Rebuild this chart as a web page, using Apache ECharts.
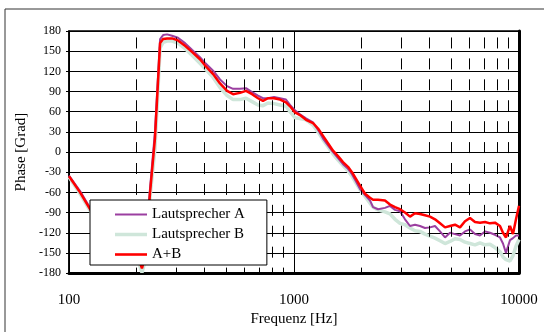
<!DOCTYPE html>
<html>
<head>
<meta charset="utf-8">
<script src="https://cdn.jsdelivr.net/npm/echarts@6/dist/echarts.min.js"></script>
<style>
  html, body { margin: 0; padding: 0; background: #fff; }
  #chart { width: 544px; height: 332px; }
</style>
</head>
<body>
<div id="chart"></div>
<script>
// Frequenz in Hz (gemeinsam fuer alle Kurven)
const freq = [
  100, 112, 124, 137, 152, 169, 187, 203, 211, 218,
  229, 241, 254, 262, 273, 287, 305, 328, 352, 382,
  402, 437, 469, 504, 536, 575, 612, 651, 692, 728,
  766, 815, 867, 921, 960, 1010, 1063, 1131, 1215, 1279,
  1346, 1416, 1491, 1569, 1651, 1738, 1810, 1886, 1965, 2069,
  2177, 2245, 2362, 2537, 2671, 2811, 2959, 3114, 3278, 3450,
  3631, 3821, 4022, 4233, 4456, 4690, 4936, 5195, 5468, 5754,
  6056, 6374, 6709, 7061, 7431, 7821, 8232, 8488, 8752, 9120,
  9404, 9697, 10000
]

// Phase in Grad
const phaseA = [
  -35, -58, -83, -101, -118, -133, -146, -154, -168, -150,
  -55, 30, 168, 174, 175, 173, 170, 162, 152, 141,
  133, 121, 108, 98, 94, 94, 95, 89, 84, 80,
  80, 82, 80, 78, 70, 62, 56, 50, 44, 33,
  20, 10, 0, -9, -18, -25, -33, -44, -55, -64,
  -72, -82, -85, -83, -80, -86, -88, -100, -110, -108,
  -110, -113, -112, -110, -118, -127, -120, -122, -124, -118,
  -115, -122, -124, -118, -120, -123, -127, -136, -150, -131,
  -128, -124, -124
]

const phaseB = [
  -37, -62, -87, -105, -122, -138, -152, -162, -179, -162,
  -68, 5, 155, 163, 165, 165, 162, 154, 144, 132,
  124, 111, 96, 84, 78, 78, 80, 75, 70, 69,
  73, 72, 70, 68, 60, 51, 50, 48, 40, 30,
  18, 8, -3, -12, -20, -28, -36, -46, -56, -66,
  -76, -82, -86, -89, -92, -100, -106, -108, -113, -117,
  -118, -122, -125, -128, -132, -136, -133, -129, -130, -134,
  -136, -138, -135, -138, -137, -142, -148, -156, -160, -162,
  -154, -140, -130
]

const phaseAB = [
  -36, -60, -85, -103, -120, -135, -148, -157, -173, -155,
  -62, 20, 162, 168, 169, 169, 166, 158, 149, 138,
  129, 116, 102, 91, 86, 88, 91, 86, 80, 76,
  80, 80, 78, 74, 68, 59, 55, 48, 43, 35,
  24, 13, 2, -6, -15, -22, -30, -40, -50, -62,
  -68, -71, -71, -72, -78, -82, -85, -90, -96, -91,
  -92, -94, -96, -100, -106, -112, -110, -108, -112, -103,
  -98, -104, -105, -104, -106, -105, -110, -120, -127, -110,
  -122, -100, -80
]

// gestrichelte Hilfslinien zwischen den Dekaden
const minorFreq = [200, 300, 400, 500, 600, 700, 800, 900, 2000, 3000, 4000, 5000, 6000, 7000, 8000, 9000]

const seriesNames = ['Lautsprecher A', 'Lautsprecher B', 'A+B']

const FONT = 'Liberation Serif'

const pairs = (vals) => freq.map((f, i) => [f, vals[i]])

const chart = echarts.init(document.getElementById('chart'))

const option = {
  animation: false,
  backgroundColor: '#fff',
  textStyle: { fontFamily: FONT, color: '#000' },
  graphic: [
    {
      type: 'rect',
      shape: { x: 5, y: 9, width: 600, height: 400 },
      style: { fill: 'none', stroke: '#333', lineWidth: 1 },
      silent: true,
      z: 0
    }
  ],
  grid: {
    left: 69,
    right: 25,
    top: 31,
    bottom: 50,
    show: true,
    borderColor: '#000',
    borderWidth: 1.5
  },
  legend: {
    z: 20,
    data: [
      { name: seriesNames[0], icon: 'path://M0,0H32V2H0Z' },
      { name: seriesNames[1], icon: 'path://M0,0H32V3.5H0Z' },
      { name: seriesNames[2], icon: 'path://M0,0H32V2.6H0Z' }
    ],
    orient: 'vertical',
    left: 90,
    top: 200,
    padding: [7, 22, 3, 25],
    itemWidth: 32,
    itemHeight: 14,
    itemGap: 5,
    backgroundColor: '#fff',
    borderColor: '#000',
    borderWidth: 1,
    borderRadius: 0,
    textStyle: { fontFamily: FONT, fontSize: 15, lineHeight: 14, color: '#000' }
  },
  xAxis: [
    {
      type: 'log',
      logBase: 10,
      min: 100,
      max: 10000,
      name: 'Frequenz [Hz]',
      nameLocation: 'middle',
      nameGap: 38,
      nameTextStyle: { fontFamily: FONT, fontSize: 15, color: '#000' },
      axisLine: { show: true, onZero: false, lineStyle: { color: '#000', width: 3 } },
      axisTick: { show: false },
      axisLabel: {
        fontFamily: FONT,
        fontSize: 15,
        color: '#000',
        margin: 19,
        formatter: (v) => String(Math.round(v))
      },
      splitLine: { show: true, lineStyle: { color: '#000', width: 1 } },
      minorTick: { show: false },
      minorSplitLine: { show: false }
    }
  ],
  yAxis: [
    {
      type: 'value',
      min: -180,
      max: 180,
      interval: 30,
      name: 'Phase [Grad]',
      nameLocation: 'middle',
      nameGap: 40,
      nameTextStyle: { fontFamily: FONT, fontSize: 15, color: '#000' },
      axisLine: { show: true, onZero: false, lineStyle: { color: '#000', width: 1.5 } },
      axisTick: { show: true, inside: false, length: 3, lineStyle: { color: '#000' } },
      axisLabel: { fontFamily: FONT, fontSize: 12, color: '#000', margin: 8 },
      splitLine: { show: true, lineStyle: { color: '#000', width: 1 } }
    },
    {
      type: 'value',
      position: 'right',
      min: -180,
      max: 180,
      interval: 30,
      axisLine: { show: true, onZero: false, lineStyle: { color: '#000', width: 3 } },
      axisTick: { show: false },
      axisLabel: { show: false },
      splitLine: { show: false }
    }
  ],
  series: [
    {
      name: seriesNames[1],
      type: 'line',
      data: pairs(phaseB),
      symbol: 'none',
      showSymbol: false,
      z: 3,
      lineStyle: { color: '#cfe6da', width: 3.5 },
      itemStyle: { color: '#cfe6da' },
      markLine: {
        silent: true,
        symbol: ['none', 'none'],
        label: { show: false },
        lineStyle: { color: '#000', width: 1, type: [11, 9.92], dashOffset: 5.5 },
        emphasis: { disabled: true },
        data: minorFreq.map((f) => ({ xAxis: f }))
      }
    },
    {
      name: seriesNames[0],
      type: 'line',
      data: pairs(phaseA),
      symbol: 'none',
      showSymbol: false,
      z: 4,
      lineStyle: { color: '#9b3fa0', width: 2 },
      itemStyle: { color: '#9b3fa0' }
    },
    {
      name: seriesNames[2],
      type: 'line',
      data: pairs(phaseAB),
      symbol: 'none',
      showSymbol: false,
      z: 5,
      lineStyle: { color: '#ff0000', width: 2.5 },
      itemStyle: { color: '#ff0000' }
    }
  ]
}

chart.setOption(option)
</script>
</body>
</html>
